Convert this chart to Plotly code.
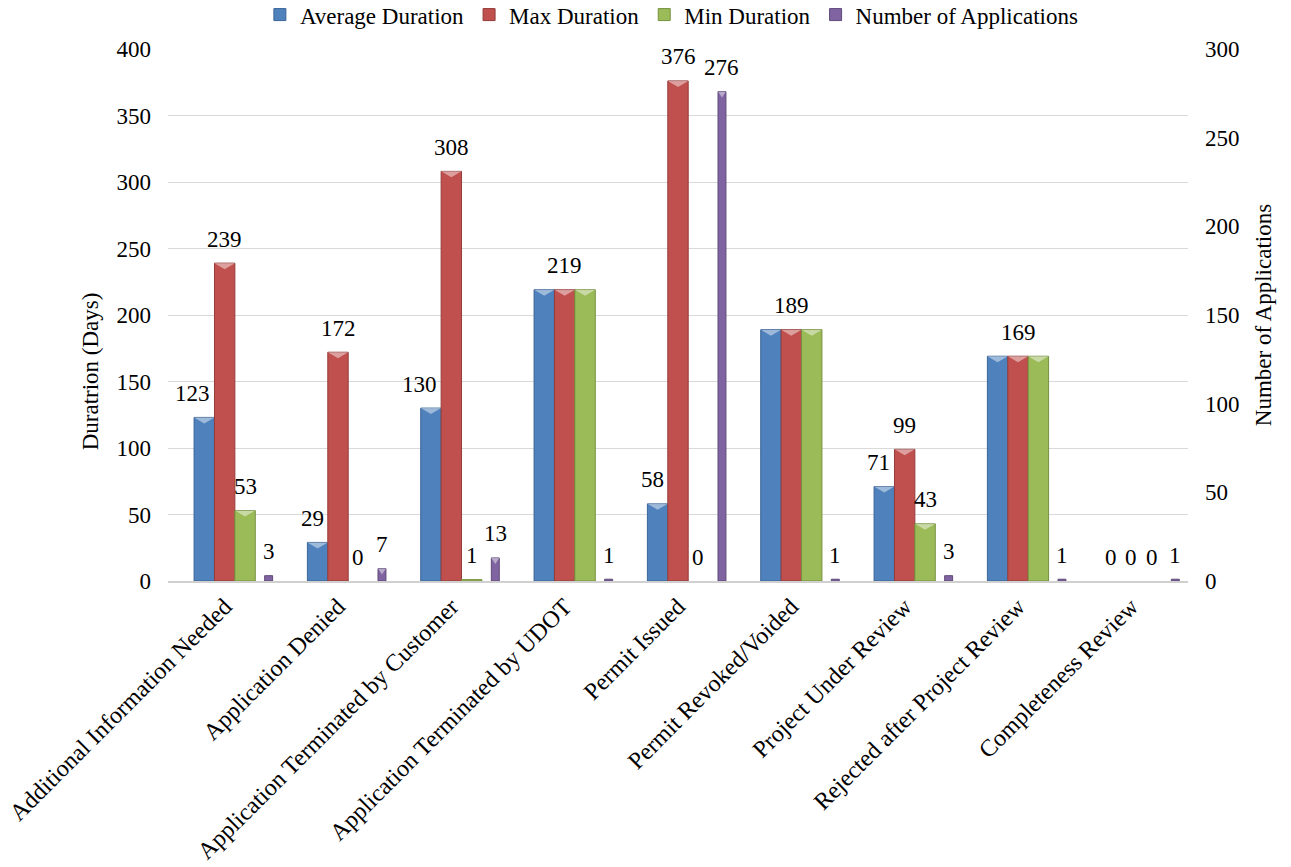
import plotly.graph_objects as go

# Application status categories
categories = [
    "Additional Information Needed",
    "Application Denied",
    "Application Terminated by Customer",
    "Application Terminated by UDOT",
    "Permit Issued",
    "Permit Revoked/Voided",
    "Project Under Review",
    "Rejected after Project Review",
    "Completeness Review",
]

# Durations in days (left axis)
avg_duration = [123, 29, 130, 219, 58, 189, 71, 169, 0]
max_duration = [239, 172, 308, 219, 376, 189, 99, 169, 0]
min_duration = [53, 0, 1, 219, 0, 189, 43, 169, 0]

# Application counts (right axis)
num_applications = [3, 7, 13, 1, 276, 1, 3, 1, 1]

FONT = "Liberation Serif"
FS = 23
TICK_FS = 24
PLOT_W, PLOT_H = 1020, 532
Y_MAX = {"y": 400, "y2": 300}
CAT_PX = PLOT_W / len(categories)  # pixel width of one category slot
CAP_PX = 6  # height of the bevel cap on each bar
positions = list(range(len(categories)))


def flat(i):
    return avg_duration[i] == max_duration[i] == min_duration[i] and avg_duration[i] > 0


series = [
    # name, values, fill, edge, offset, width, axis, label anchor, hide labels on flat groups
    ("Average Duration", avg_duration, "#4F81BD", "#3A6596", -0.27, 0.18, "y", "right", True),
    ("Max Duration", max_duration, "#C0504D", "#943C3A", -0.09, 0.18, "y", "center", False),
    ("Min Duration", min_duration, "#9BBB59", "#76913F", 0.09, 0.18, "y", "center", True),
    ("Number of Applications", num_applications, "#8064A2", "#5F4A7A", 0.353, 0.07, "y2", "center", False),
]

fig = go.Figure()
annotations = []
for name, vals, fill, edge, off, w, axis, anchor, hide in series:
    fig.add_trace(
        go.Bar(
            x=positions,
            y=vals,
            name=name,
            yaxis=axis,
            offset=off,
            width=w,
            marker=dict(
                color=fill,
                line=dict(color=edge, width=[1 if v > 0 else 0 for v in vals]),
            ),
            hovertext=categories,
            hoverinfo="text+y+name",
        )
    )

    # light bevel triangle on top of every bar tall enough to hold it
    cap_h = CAP_PX * Y_MAX[axis] / PLOT_H
    cx, cy = [], []
    for i, v in enumerate(vals):
        if v <= cap_h * 1.5:
            continue
        left = i + off
        cx += [left, left + w, left + w / 2, left, None]
        cy += [v, v, v - cap_h, v, None]
    fig.add_trace(
        go.Scatter(
            x=cx,
            y=cy,
            yaxis=axis,
            mode="lines",
            fill="toself",
            fillcolor="rgba(255,255,255,0.45)",
            line=dict(width=0),
            showlegend=False,
            hoverinfo="skip",
        )
    )

    # value labels above each bar
    for i, v in enumerate(vals):
        if hide and flat(i):
            continue
        xc = i + off + w / 2
        if anchor == "right":
            xc += 8 / CAT_PX
        annotations.append(
            dict(
                x=xc,
                y=v,
                xref="x",
                yref=axis,
                text=str(v),
                showarrow=False,
                xanchor=anchor,
                yanchor="middle",
                yshift=24,
                font=dict(family=FONT, size=FS, color="black"),
            )
        )

# left axis title sits a little below the plot's vertical middle
annotations.append(
    dict(
        x=-0.076,
        y=0.395,
        xref="paper",
        yref="paper",
        text="Duratrion (Days)",
        textangle=-90,
        showarrow=False,
        xanchor="center",
        yanchor="middle",
        font=dict(family=FONT, size=FS, color="black"),
    )
)

fig.update_layout(
    width=1291,
    height=867,
    autosize=False,
    barmode="overlay",
    plot_bgcolor="white",
    paper_bgcolor="white",
    font=dict(family=FONT, size=FS, color="black"),
    margin=dict(l=168, r=103, t=49, b=286, autoexpand=False),
    showlegend=True,
    legend=dict(
        orientation="h",
        x=0.494,
        xanchor="center",
        y=1.105,
        yanchor="top",
        font=dict(family=FONT, size=FS, color="black"),
        itemwidth=30,
        bgcolor="rgba(0,0,0,0)",
    ),
    annotations=annotations,
    xaxis=dict(
        range=[-0.5, len(categories) - 0.5],
        tickvals=positions,
        ticktext=categories,
        tickangle=-45,
        showgrid=False,
        zeroline=False,
        showline=True,
        linecolor="#D0D0D0",
        linewidth=2,
        ticks="",
        automargin=False,
        tickfont=dict(family=FONT, size=TICK_FS, color="black"),
    ),
    yaxis=dict(
        range=[0, Y_MAX["y"]],
        dtick=50,
        showgrid=True,
        gridcolor="#D9D9D9",
        gridwidth=1,
        zeroline=False,
        ticks="",
        automargin=False,
        ticklabelstandoff=16,
        tickfont=dict(family=FONT, size=FS, color="black"),
    ),
    yaxis2=dict(
        overlaying="y",
        side="right",
        range=[0, Y_MAX["y2"]],
        dtick=50,
        showgrid=False,
        zeroline=False,
        ticks="",
        automargin=False,
        ticklabelstandoff=16,
        tickfont=dict(family=FONT, size=FS, color="black"),
        title=dict(text="Number of Applications", standoff=16,
                   font=dict(family=FONT, size=FS, color="black")),
    ),
)

fig.write_html("out.html")
